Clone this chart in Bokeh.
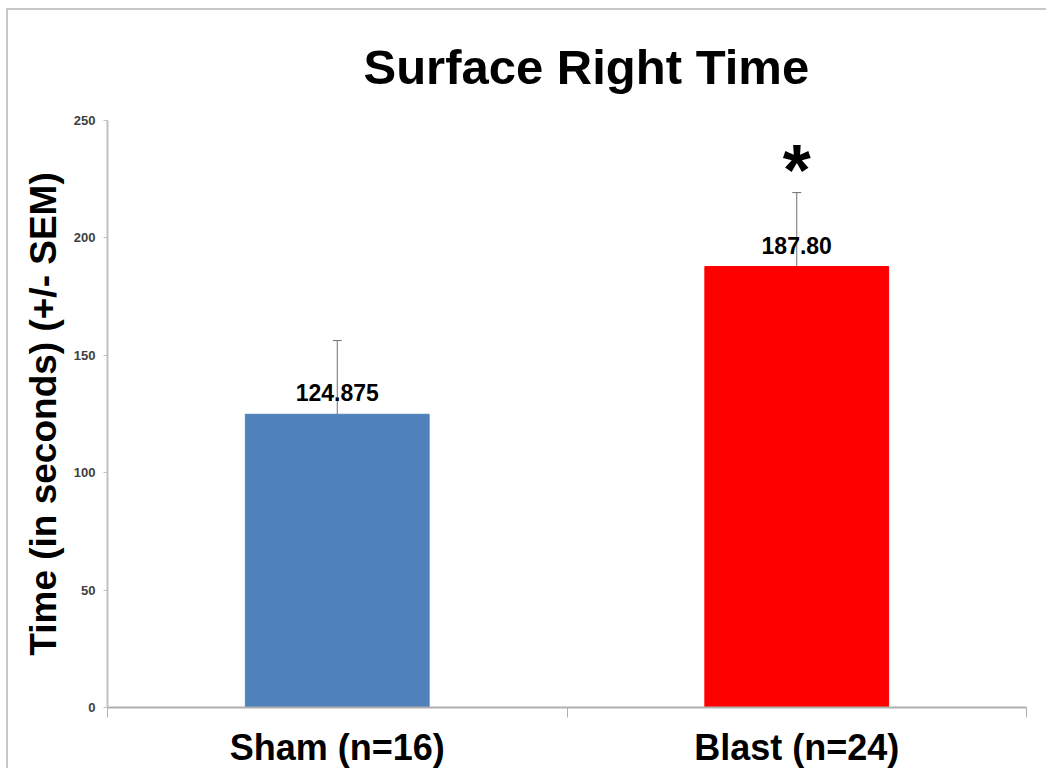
from bokeh.plotting import figure
from bokeh.models import (Range1d, ColumnDataSource, Whisker, TeeHead,
                          LabelSet, LinearAxis, FixedTicker)
from bokeh.core.properties import value
from bokeh.embed import file_html
from bokeh.resources import INLINE

# ---- data ----
categories = ["Sham (n=16)", "Blast (n=24)"]
means = [124.875, 187.80]
sems = [31.4, 31.5]
value_texts = ["124.875", "187.80"]
bar_colors = ["#4F81BD", "#FF0000"]
y_ticks = [0, 50, 100, 150, 200, 250]
sig_category = "Blast (n=24)"
sig_mark = "*"

FONT = "Liberation Sans"

n = len(categories)
centers = [i + 0.5 for i in range(n)]
bounds = list(range(n + 1))

src = ColumnDataSource(dict(
    x=centers,
    mean=means,
    upper=[m + s for m, s in zip(means, sems)],
    txt=value_texts,
    color=bar_colors,
))
sig_i = categories.index(sig_category)
sig_src = ColumnDataSource(dict(x=[centers[sig_i]], y=[means[sig_i] + sems[sig_i]], txt=[sig_mark]))

p = figure(
    width=1040, height=760,
    x_range=Range1d(0, n),
    y_range=Range1d(0, 250),
    output_backend="svg", toolbar_location=None,
    x_axis_location=None,
    min_border_left=99, min_border_right=22, min_border_top=110, min_border_bottom=63,
    title="Surface Right Time",
)
p.styles = {"margin-left": "6px", "margin-top": "8px",
            "border-top": "2px solid #c8c8c8", "border-left": "2px solid #c8c8c8"}

# title
p.title.text_font = FONT
p.title.text_font_size = "49px"
p.title.text_font_style = "bold"
p.title.text_color = "black"
p.title.align = "left"
p.title.offset = 256
p.title.standoff = 53

p.grid.visible = False
p.outline_line_color = None
p.background_fill_color = "white"
p.border_fill_color = "white"

# y axis
ya = p.yaxis[0]
ya.ticker = FixedTicker(ticks=y_ticks)
ya.axis_line_color = "#c0c0c0"
ya.axis_line_width = 2
ya.major_tick_line_color = "#c0c0c0"
ya.major_tick_out = 4
ya.major_tick_in = 0
ya.minor_tick_line_color = None
ya.major_label_text_font = FONT
ya.major_label_text_font_size = "13px"
ya.major_label_text_font_style = "bold"
ya.major_label_text_color = "#404040"
ya.major_label_standoff = 8
ya.axis_label = "Time (in seconds) (+/- SEM)"
ya.axis_label_text_font = FONT
ya.axis_label_text_font_size = "37px"
ya.axis_label_text_font_style = "bold"
ya.axis_label_text_color = "black"
ya.axis_label_standoff = 7

# x axis: category labels at centres, small ticks at category boundaries
xa = LinearAxis(
    ticker=FixedTicker(ticks=centers, minor_ticks=bounds),
    major_label_overrides={c: lab for c, lab in zip(centers, categories)},
    axis_line_color="#b0b0b0", axis_line_width=2,
    major_tick_line_color=None, major_tick_out=10, major_tick_in=0,
    minor_tick_line_color="#b0b0b0", minor_tick_out=10, minor_tick_in=0,
    major_label_text_font=FONT,
    major_label_text_font_size="36px",
    major_label_text_font_style="bold",
    major_label_text_color="black",
    major_label_standoff=9,
)
p.add_layout(xa, "below")

# bars
p.vbar(x="x", top="mean", bottom=0, width=0.4, color="color", source=src)

# error bars (upper only)
p.add_layout(Whisker(
    base="x", upper="upper", lower="mean", source=src,
    line_color="#707070", line_width=1,
    upper_head=TeeHead(size=9, line_color="#707070", line_width=1),
    lower_head=None,
))

# value labels
p.add_layout(LabelSet(
    x="x", y="mean", text="txt", source=src,
    text_align="center", text_baseline="alphabetic", y_offset=13,
    text_font=value(FONT), text_font_size=value("23px"), text_font_style="bold",
    text_color="black",
))

# significance asterisk
p.add_layout(LabelSet(
    x="x", y="y", text="txt", source=sig_src,
    text_align="center", text_baseline="alphabetic", y_offset=-2,
    text_font=value(FONT), text_font_size=value("72px"), text_font_style="bold",
    text_color="black",
))

open("out.html", "w").write(file_html(p, INLINE))
